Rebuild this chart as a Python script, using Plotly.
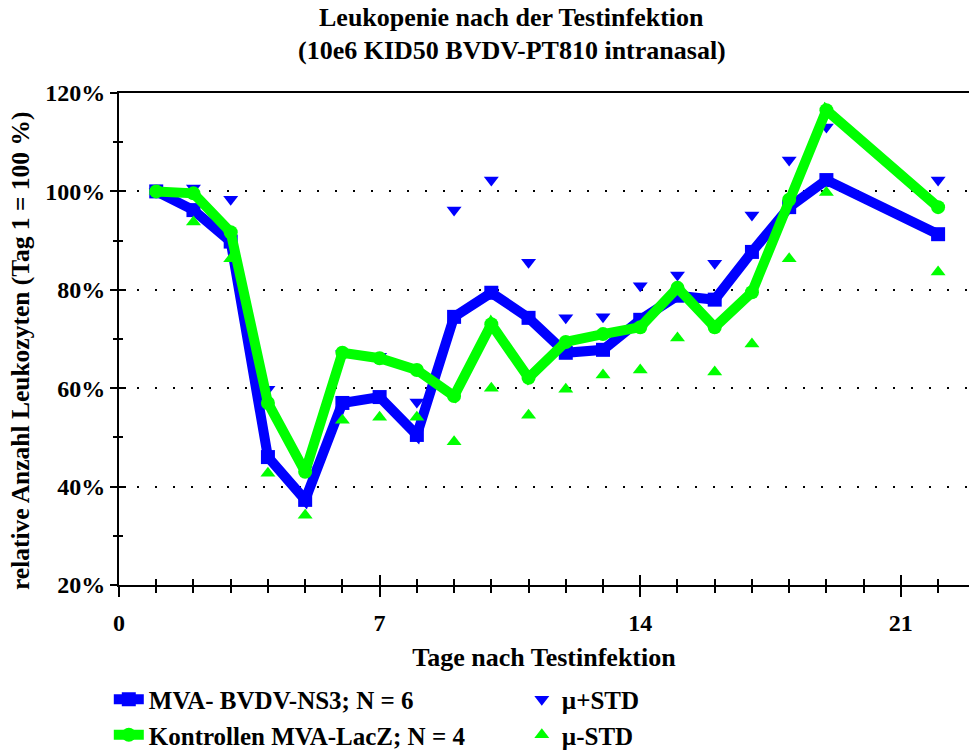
import plotly.graph_objects as go

days = [1, 2, 3, 4, 5, 6, 7, 8, 9, 10, 11, 12, 13, 14, 15, 16, 17, 18, 19, 22]

ns3_mean = [100, 96.2, 89.8, 46.0, 37.3, 57.0, 58.2, 50.5, 74.5, 79.4, 74.3, 67.2, 67.8, 73.9, 78.8, 78.0, 87.7, 96.8, 102.3, 91.3]
ns3_plus = [100, 100.7, 98.4, 59.8, 43.5, 67.0, 66.5, 57.2, 96.2, 102.3, 85.6, 74.3, 74.5, 80.8, 83.0, 85.4, 95.2, 106.4, 113.1, 102.3]

lacz_mean = [100, 99.6, 91.7, 57.0, 43.0, 67.2, 66.1, 63.7, 58.4, 73.0, 62.1, 69.4, 71.0, 72.4, 80.4, 72.4, 79.5, 98.3, 116.5, 96.8]
lacz_minus = [100, 93.8, 86.3, 42.7, 34.2, 53.5, 54.1, 54.1, 49.1, 60.0, 54.5, 59.8, 62.7, 63.7, 70.2, 63.3, 69.0, 86.3, 99.8, 83.6]

x_ticks = [0, 7, 14, 21]
y_ticks = [20, 40, 60, 80, 100, 120]
y_ticklabels = ["20%", "40%", "60%", "80%", "100%", "120%"]

title1 = "Leukopenie nach der Testinfektion"
title2 = "(10e6 KID50 BVDV-PT810 intranasal)"
x_title = "Tage nach Testinfektion"
y_title = "relative Anzahl Leukozyten (Tag 1 = 100 %)"
name_ns3 = "MVA- BVDV-NS3; N = 6"
name_lacz = "Kontrollen MVA-LacZ; N = 4"
name_plus = "µ+STD"
name_minus = "µ-STD"

FONT = "Liberation Serif"
BLUE = "#0000FF"
GREEN = "#00FF00"


def b(s):
    return "<b>" + s + "</b>"


fig = go.Figure()

fig.add_trace(go.Scatter(x=days, y=ns3_plus, mode="markers", name=b(name_plus), legendrank=2,
                         marker=dict(symbol="triangle-down", size=13, color=BLUE)))
fig.add_trace(go.Scatter(x=days, y=ns3_mean, mode="lines+markers", name=b(name_ns3), legendrank=1,
                         line=dict(color=BLUE, width=10),
                         marker=dict(symbol="square", size=14, color=BLUE)))
fig.add_trace(go.Scatter(x=days, y=lacz_minus, mode="markers", name=b(name_minus), legendrank=4,
                         marker=dict(symbol="triangle-up", size=13, color=GREEN)))
fig.add_trace(go.Scatter(x=days, y=lacz_mean, mode="lines+markers", name=b(name_lacz), legendrank=3,
                         line=dict(color=GREEN, width=10),
                         marker=dict(symbol="circle", size=14, color=GREEN)))
# invisible trace on the overlay axes so that they get drawn
fig.add_trace(go.Scatter(x=[days[0]], y=[ns3_mean[0]], xaxis="x2", yaxis="y2", mode="markers",
                         marker=dict(opacity=0), showlegend=False, hoverinfo="skip"))

XR = [0, 22.83]
YR = [20, 120]
tickfont = dict(family=FONT, size=24, color="black")

fig.update_layout(
    width=969, height=753,
    margin=dict(l=119, r=0, t=93, b=168, autoexpand=False),
    paper_bgcolor="white", plot_bgcolor="white",
    font=dict(family=FONT, color="black"),
    showlegend=True,
    legend=dict(orientation="h", x=-0.012, xanchor="left", y=-0.186, yanchor="top",
                font=dict(family=FONT, size=25, color="black"),
                entrywidth=368, tracegroupgap=0, itemwidth=30,
                bgcolor="rgba(0,0,0,0)"),
    xaxis=dict(range=XR, tickvals=x_ticks, ticktext=[b(str(v)) for v in x_ticks],
               showline=True, linecolor="black", linewidth=2, mirror=True,
               ticks="outside", ticklen=10, tickwidth=2, tickcolor="black",
               minor=dict(dtick=1, tick0=0, ticks="outside", ticklen=6, tickwidth=2, tickcolor="black"),
               showgrid=False, zeroline=False, tickfont=tickfont, ticklabelstandoff=5,
               title=dict(text=b(x_title), font=dict(family=FONT, size=26, color="black"),
                          standoff=13)),
    yaxis=dict(range=YR, tickvals=y_ticks, ticktext=[b(t) for t in y_ticklabels],
               showline=True, linecolor="black", linewidth=2, mirror=False,
               ticks="outside", ticklen=7, tickwidth=2, tickcolor="black",
               minor=dict(dtick=10, tick0=0, ticks="outside", ticklen=4, tickwidth=2, tickcolor="black"),
               showgrid=True, gridcolor="black", gridwidth=2, griddash="2px,16px",
               zeroline=False, tickfont=tickfont),
    xaxis2=dict(range=XR, overlaying="x", anchor="y", side="bottom", tickvals=x_ticks,
                showticklabels=False, ticks="inside", ticklen=10, tickwidth=2, tickcolor="black",
                minor=dict(dtick=1, tick0=0, ticks="inside", ticklen=6, tickwidth=2, tickcolor="black"),
                showgrid=False, zeroline=False, showline=False),
    yaxis2=dict(range=YR, overlaying="y", anchor="x", side="left", tickvals=y_ticks,
                showticklabels=False, ticks="inside", ticklen=7, tickwidth=2, tickcolor="black",
                minor=dict(dtick=10, tick0=0, ticks="inside", ticklen=4, tickwidth=2, tickcolor="black"),
                showgrid=False, zeroline=False, showline=False),
    annotations=[
        dict(text=b(title1), xref="paper", yref="paper", x=0.462, y=1.154, xanchor="center", yanchor="middle",
             showarrow=False, font=dict(family=FONT, size=26, color="black")),
        dict(text=b(title2), xref="paper", yref="paper", x=0.462, y=1.087, xanchor="center", yanchor="middle",
             showarrow=False, font=dict(family=FONT, size=26, color="black")),
        dict(text=b(y_title), xref="paper", yref="paper", x=-0.1165, y=0.4776, xanchor="center",
             yanchor="middle", textangle=-90, showarrow=False,
             font=dict(family=FONT, size=25.5, color="black")),
    ],
)

fig.write_html("out.html")
